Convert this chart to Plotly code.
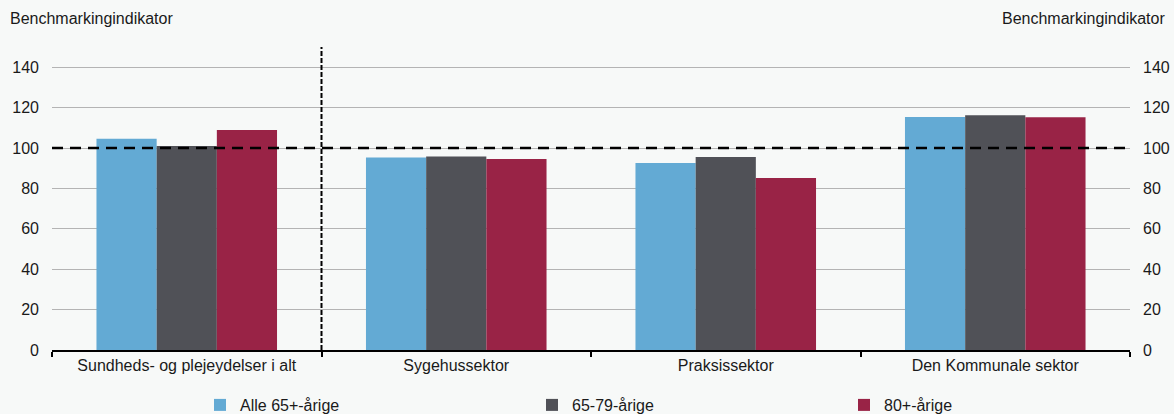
import plotly.graph_objects as go

# ── Data ─────────────────────────────────────────────────────────
categories = [
    "Sundheds- og plejeydelser i alt",
    "Sygehussektor",
    "Praksissektor",
    "Den Kommunale sektor",
]
alle_65 = [104.6, 95.3, 92.6, 115.4]
aar_65_79 = [101.0, 95.8, 95.5, 116.2]
aar_80 = [108.9, 94.5, 85.1, 115.2]

series_names = ["Alle 65+-årige", "65-79-årige", "80+-årige"]
y_ticks = [0, 20, 40, 60, 80, 100, 120, 140]
reference_level = 100
axis_title = "Benchmarkingindikator"

# ── Style ────────────────────────────────────────────────────────
COLORS = ["#63AAD4", "#505157", "#992346"]
BG = "#F7F9F8"
FONT = "Liberation Sans, Arial, sans-serif"
FS = 16
W, H = 1174, 414
M = dict(l=52, r=44, t=47, b=64, autoexpand=False)
PW = W - M["l"] - M["r"]
PH = H - M["t"] - M["b"]

fig = go.Figure()
for i, (name, vals) in enumerate(zip(series_names, [alle_65, aar_65_79, aar_80])):
    leg = "legend" if i == 0 else f"legend{i + 1}"
    fig.add_trace(go.Bar(
        x=categories, y=vals, name=name,
        marker=dict(color=COLORS[i], line=dict(width=0)),
        legend=leg,
        hovertemplate="%{x}<br>" + name + ": %{y:.1f}<extra></extra>",
    ))

# mirrored right axis (empty trace only to carry the axis)
fig.add_trace(go.Scatter(x=categories, y=[None] * 4, yaxis="y2",
                         showlegend=False, hoverinfo="skip"))

# one legend per series so the entries sit where the original has them
legend_text_x = [240, 572, 884]
legends = {}
for i, px in enumerate(legend_text_x):
    key = "legend" if i == 0 else f"legend{i + 1}"
    legends[key] = dict(
        x=(px - 40 - M["l"]) / PW, y=-(405 - (H - M["b"])) / PH,
        xanchor="left", yanchor="middle",
        orientation="h", bgcolor="rgba(0,0,0,0)",
        font=dict(size=FS, color="#1a1a1a", family=FONT),
        itemwidth=30,
    )

title_y = 1 + (M["t"] - 18) / PH

fig.update_layout(
    width=W, height=H,
    margin=M,
    paper_bgcolor=BG, plot_bgcolor=BG,
    font=dict(family=FONT, size=FS, color="#1a1a1a"),
    barmode="group",
    bargap=0.33, bargroupgap=0,
    xaxis=dict(
        showline=True, linecolor="#000", linewidth=2,
        ticks="outside", tickson="boundaries", ticklen=5, tickwidth=1.5,
        tickcolor="#000", showgrid=False,
        tickfont=dict(size=FS),
    ),
    yaxis=dict(
        range=[0, 150], tickvals=y_ticks, showgrid=True,
        gridcolor="#B4B4B4", gridwidth=1, zeroline=False,
        ticklabelstandoff=12, tickfont=dict(size=FS),
    ),
    yaxis2=dict(
        range=[0, 150], tickvals=y_ticks, overlaying="y", side="right",
        showgrid=False, zeroline=False,
        ticklabelstandoff=12, tickfont=dict(size=FS),
    ),
    shapes=[
        dict(type="line", xref="paper", yref="y", x0=0, x1=1,
             y0=reference_level, y1=reference_level,
             line=dict(color="#000", width=2.5, dash="11px,7px")),
        dict(type="line", xref="x", yref="y", x0=0.5, x1=0.5, y0=0, y1=150,
             line=dict(color="#000", width=2, dash="5px,2px")),
    ],
    annotations=[
        dict(text=axis_title, xref="paper", yref="paper",
             x=(8 - M["l"]) / PW, y=title_y,
             xanchor="left", yanchor="middle", showarrow=False,
             font=dict(size=FS)),
        dict(text=axis_title, xref="paper", yref="paper",
             x=1 + (1167 - (W - M["r"])) / PW, y=title_y,
             xanchor="right", yanchor="middle", showarrow=False,
             font=dict(size=FS)),
    ],
    **legends,
)

fig.write_html(
    "out.html",
    config={"displayModeBar": False},
    post_script=f"document.body.style.margin='0';document.body.style.background='{BG}';",
)
